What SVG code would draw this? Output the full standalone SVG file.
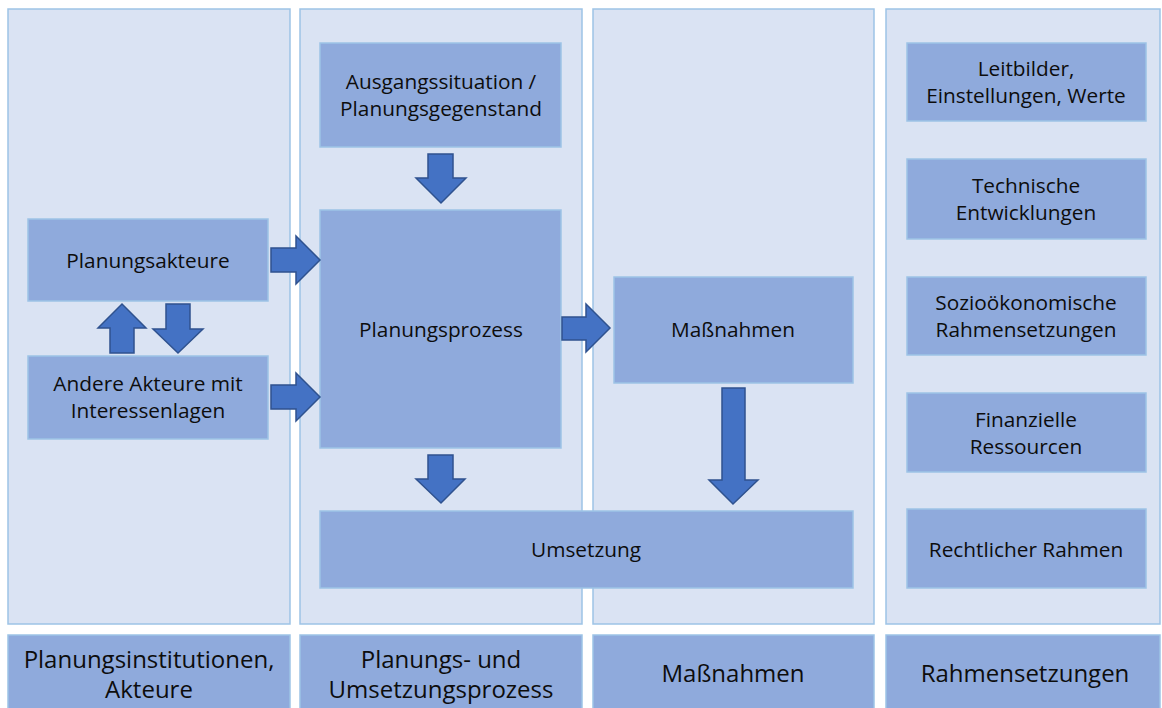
<svg xmlns="http://www.w3.org/2000/svg" width="1162" height="708" viewBox="0 0 1162 708">
<style>
.panel{fill:#DAE3F3;stroke:#9DC3E6;stroke-width:1.5}
.box{fill:#8FAADC;stroke:#9DC3E6;stroke-width:1.5}
.arrow{fill:#4472C4;stroke:#2F528F;stroke-width:1.5;stroke-linejoin:miter}
text{font-family:"Open Sans","Noto Sans",sans-serif;fill:#0d0d0d;text-anchor:middle}
.t{font-size:20.8px}
.f{font-size:24px}
</style>
<rect width="1162" height="708" fill="#ffffff"/>
<g id="panels">
<rect class="panel" x="8" y="9" width="282" height="615"/>
<rect class="panel" x="300" y="9" width="282" height="615"/>
<rect class="panel" x="593" y="9" width="281" height="615"/>
<rect class="panel" x="886" y="9" width="274" height="615"/>
</g>
<g id="footer1"><rect class="box" x="8" y="635" width="282" height="80"/><text class="f" x="149" y="668">Planungsinstitutionen,</text><text class="f" x="149" y="698">Akteure</text></g>
<g id="footer2"><rect class="box" x="300" y="635" width="282" height="80"/><text class="f" x="441" y="668">Planungs- und</text><text class="f" x="441" y="698">Umsetzungsprozess</text></g>
<g id="footer3"><rect class="box" x="593" y="635" width="281" height="80"/><text class="f" x="733" y="682">Maßnahmen</text></g>
<g id="footer4"><rect class="box" x="886" y="635" width="274" height="80"/><text class="f" x="1025" y="682">Rahmensetzungen</text></g>
<g id="planungsakteure"><rect class="box" x="28" y="219" width="240" height="82"/><text class="t" x="148" y="268">Planungsakteure</text></g>
<g id="andere"><rect class="box" x="28" y="356" width="240" height="83"/><text class="t" x="148" y="391">Andere Akteure mit</text><text class="t" x="148" y="418">Interessenlagen</text></g>
<g id="ausgang"><rect class="box" x="320" y="43" width="241" height="104"/><text class="t" x="441" y="89">Ausgangssituation /</text><text class="t" x="441" y="116">Planungsgegenstand</text></g>
<g id="prozess"><rect class="box" x="320" y="210" width="241" height="238"/><text class="t" x="441" y="337">Planungsprozess</text></g>
<g id="massnahmen"><rect class="box" x="614" y="277" width="239" height="106"/><text class="t" x="733" y="337">Maßnahmen</text></g>
<g id="umsetzung"><rect class="box" x="320" y="511" width="533" height="77"/><text class="t" x="586" y="557">Umsetzung</text></g>
<g id="leitbilder"><rect class="box" x="907" y="43" width="239" height="78"/><text class="t" x="1026" y="76">Leitbilder,</text><text class="t" x="1026" y="103">Einstellungen, Werte</text></g>
<g id="technische"><rect class="box" x="907" y="159" width="239" height="80"/><text class="t" x="1026" y="193">Technische</text><text class="t" x="1026" y="220">Entwicklungen</text></g>
<g id="sozio"><rect class="box" x="907" y="277" width="239" height="78"/><text class="t" x="1026" y="310">Sozioökonomische</text><text class="t" x="1026" y="337">Rahmensetzungen</text></g>
<g id="finanz"><rect class="box" x="907" y="393" width="239" height="79"/><text class="t" x="1026" y="427">Finanzielle</text><text class="t" x="1026" y="454">Ressourcen</text></g>
<g id="recht"><rect class="box" x="907" y="509" width="239" height="79"/><text class="t" x="1026" y="557">Rechtlicher Rahmen</text></g>
<g id="connectors">
<polygon class="arrow" points="271,248 296,248 296,236 320,260 296,284 296,272 271,272"/>
<polygon class="arrow" points="271,385 296,385 296,373 320,397 296,421 296,409 271,409"/>
<polygon class="arrow" points="562,317 586,317 586,304 610,328 586,352 586,340 562,340"/>
<polygon class="arrow" points="428,154 453,154 453,178 466,178 441,203 416,178 428,178"/>
<polygon class="arrow" points="428,455 453,455 453,479 465,479 441,503 416,479 428,479"/>
<polygon class="arrow" points="722,388 745,388 745,480 758,480 733,504 709,480 722,480"/>
<polygon class="arrow" points="166,304 190,304 190,329 203,329 178,353 153,329 166,329"/>
<polygon class="arrow" points="110,353 134,353 134,328 146,328 122,304 98,328 110,328"/>
</g>
</svg>
